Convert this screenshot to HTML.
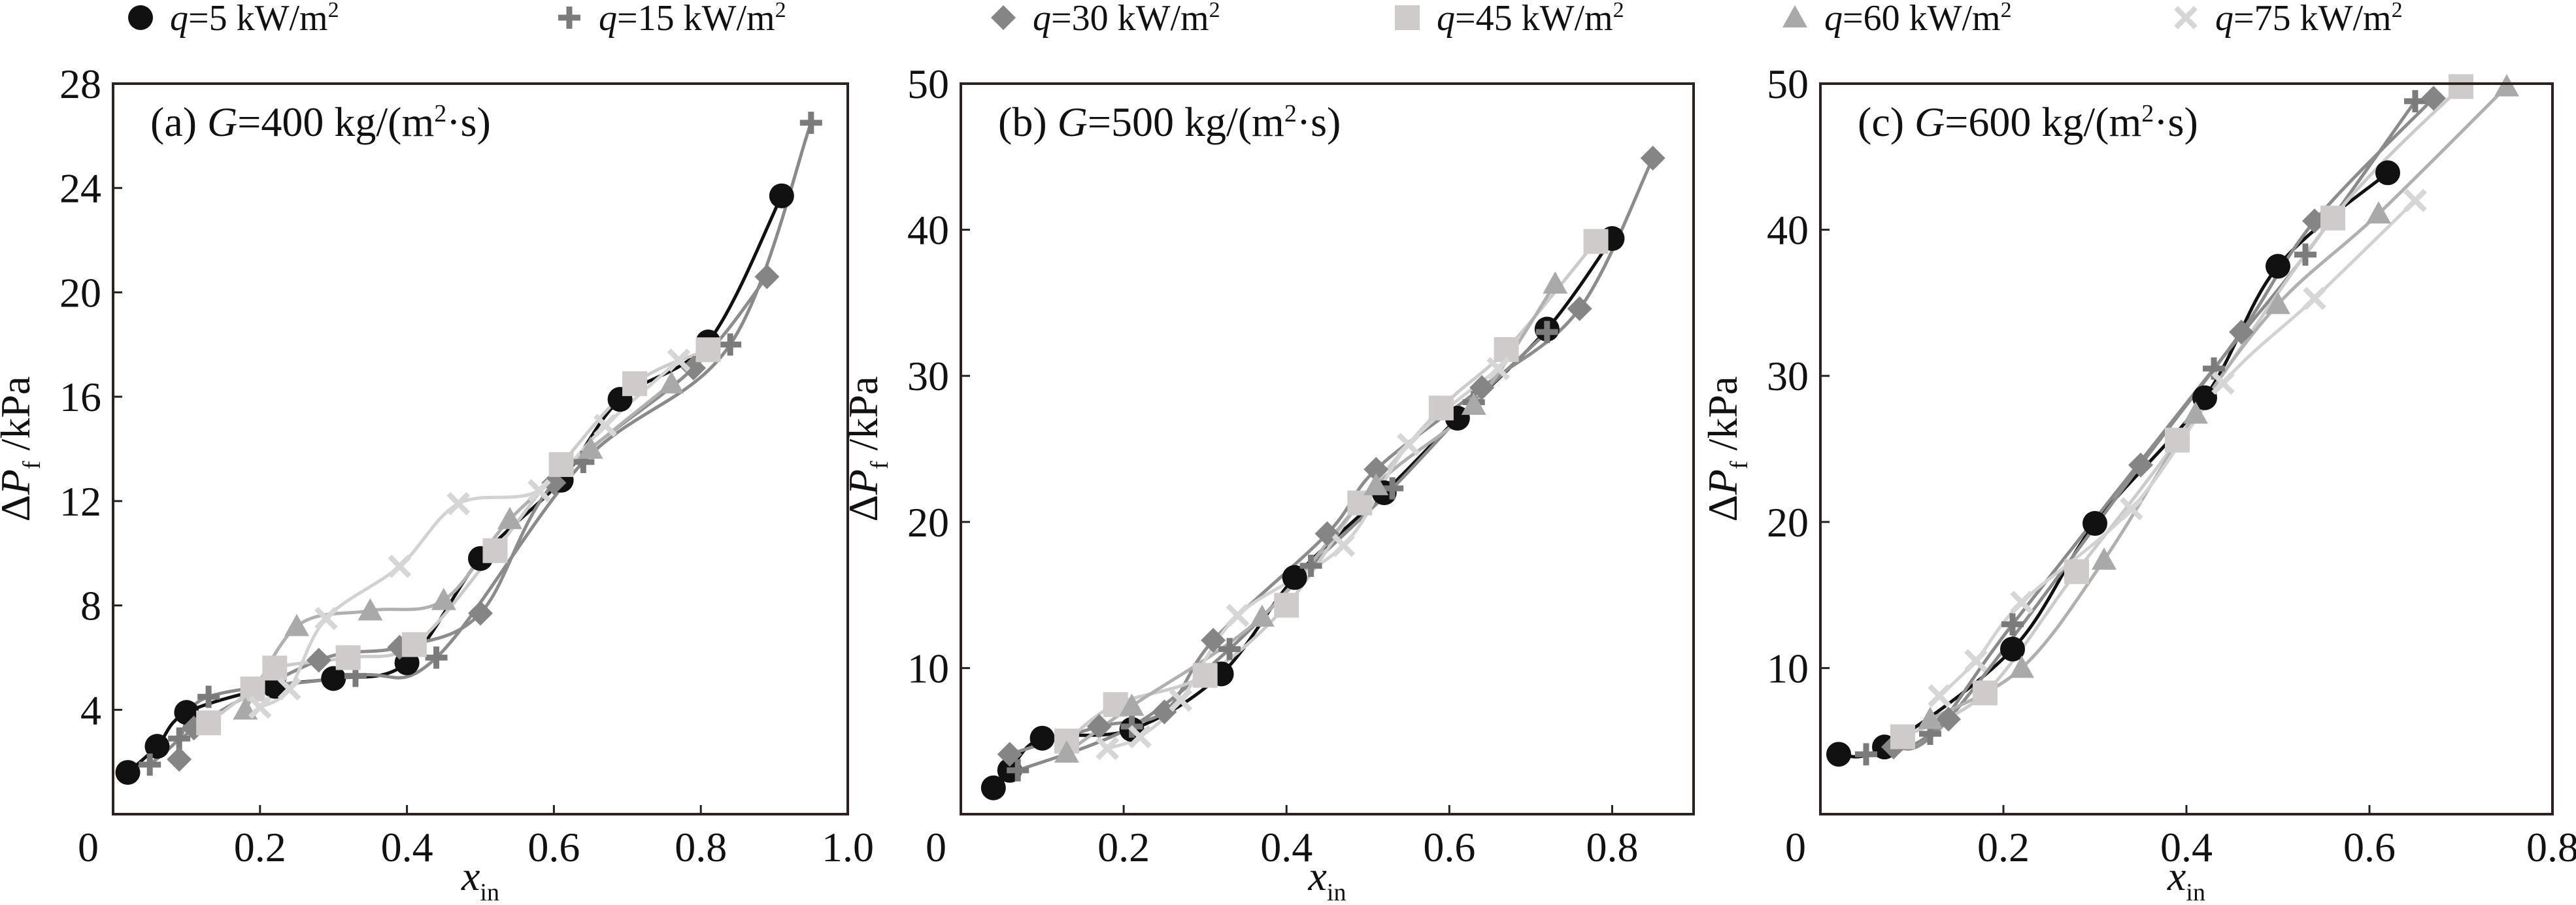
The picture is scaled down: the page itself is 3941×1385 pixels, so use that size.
<!DOCTYPE html>
<html><head><meta charset="utf-8"><style>
html,body{margin:0;padding:0;background:#fff;}
svg{display:block;font-family:"Liberation Serif","DejaVu Serif",serif;}
svg text{font-family:"Liberation Serif","DejaVu Serif",serif;}
</style></head><body>
<svg id="chart" width="3941" height="1385" viewBox="0 0 3941 1385" font-family="Liberation Serif, DejaVu Serif, serif" xmlns="http://www.w3.org/2000/svg"></svg>
<script>
const seriesNames = ["q5","q15","q30","q45","q60","q75"];
const legendLabels = ["5","15","30","45","60","75"];
const panelTitles = ["(a) ","(b) ","(c) "];
const panelG = ["400","500","600"];
const xTicksA = [0,0.2,0.4,0.6,0.8,1.0];
const xTicksB = [0,0.2,0.4,0.6,0.8];
const xTicksC = [0,0.2,0.4,0.6,0.8];
const yTicksA = [4,8,12,16,20,24,28];
const yTicksB = [10,20,30,40,50];
const yTicksC = [10,20,30,40,50];
// Panel a: G=400
const aX_q5 = [0.02,0.06,0.10,0.22,0.30,0.40,0.50,0.61,0.69,0.81,0.91];
const aY_q5 = [1.6,2.6,3.9,4.9,5.2,5.8,9.8,12.8,15.9,18.1,23.7];
const aX_q15 = [0.05,0.09,0.13,0.33,0.44,0.64,0.84,0.95];
const aY_q15 = [1.9,2.9,4.5,5.3,6.0,13.5,18.0,26.5];
const aX_q30 = [0.09,0.11,0.28,0.39,0.50,0.60,0.79,0.89];
const aY_q30 = [2.1,3.3,5.9,6.4,7.7,12.7,17.1,20.6];
const aX_q45 = [0.13,0.19,0.22,0.32,0.41,0.52,0.61,0.71,0.81];
const aY_q45 = [3.5,4.8,5.6,6.0,6.5,10.1,13.4,16.5,17.8];
const aX_q60 = [0.18,0.25,0.35,0.45,0.54,0.65,0.76];
const aY_q60 = [4.0,7.2,7.8,8.2,11.3,14.0,16.5];
const aX_q75 = [0.20,0.24,0.29,0.39,0.47,0.58,0.67,0.77];
const aY_q75 = [4.1,4.8,7.5,9.5,11.9,12.4,14.9,17.4];
// Panel b: G=500
const bX_q5 = [0.04,0.06,0.10,0.21,0.32,0.41,0.52,0.61,0.72,0.80];
const bY_q5 = [1.8,3.0,5.2,5.8,9.6,16.2,22.0,27.1,33.2,39.4];
const bX_q15 = [0.07,0.21,0.33,0.43,0.53,0.63,0.72];
const bY_q15 = [3.0,6.0,11.3,17.0,22.3,28.2,33.0];
const bX_q30 = [0.06,0.17,0.25,0.31,0.45,0.51,0.64,0.76,0.85];
const bY_q30 = [4.1,6.0,7.0,11.9,19.2,23.6,29.2,34.6,44.9];
const bX_q45 = [0.13,0.19,0.30,0.40,0.49,0.59,0.67,0.78];
const bY_q45 = [5.0,7.5,9.5,14.3,21.3,27.8,31.8,39.2];
const bX_q60 = [0.13,0.21,0.37,0.51,0.63,0.73];
const bY_q60 = [4.2,7.4,13.5,22.5,28.0,36.3];
const bX_q75 = [0.18,0.22,0.27,0.34,0.47,0.55,0.66];
const bY_q75 = [4.5,5.3,7.8,13.6,18.4,25.3,30.5];
// Panel c: G=600
const cX_q5 = [0.02,0.07,0.21,0.30,0.42,0.50,0.62];
const cY_q5 = [4.1,4.6,11.3,19.9,28.5,37.5,43.9];
const cX_q15 = [0.05,0.12,0.21,0.43,0.53,0.65];
const cY_q15 = [4.1,5.5,13.0,30.5,38.3,48.8];
const cX_q30 = [0.08,0.14,0.35,0.46,0.54,0.67];
const cY_q30 = [4.6,6.5,23.9,33.0,40.6,49.0];
const cX_q45 = [0.09,0.18,0.28,0.39,0.56,0.70];
const cY_q45 = [5.3,8.3,16.6,25.6,40.8,49.8];
const cX_q60 = [0.12,0.22,0.31,0.41,0.50,0.61,0.75];
const cY_q60 = [6.5,10.0,17.4,27.4,34.9,41.1,49.8];
const cX_q75 = [0.13,0.17,0.22,0.34,0.44,0.54,0.65];
const cY_q75 = [8.1,10.5,14.5,20.9,29.5,35.3,42.0];

const NS="http://www.w3.org/2000/svg";
const svg=document.getElementById('chart');
const colors=["#111111","#7b7b7b","#858585","#cfcbcb","#a9a9a9","#d6d6d6"];
const lineColors=["#111111","#8a8a8a","#8c8c8c","#cdcaca","#b0b0b0","#d2d2d2"];
function el(tag,attrs,parent){const e=document.createElementNS(NS,tag);for(const k in attrs)e.setAttribute(k,attrs[k]);(parent||svg).appendChild(e);return e;}

function marker(kind,cx,cy,col,parent){
  let m;
  if(kind===0){m=el('circle',{cx:cx,cy:cy,r:19,fill:col},parent);}
  else if(kind===1){m=el('path',{d:`M${cx-17},${cy}H${cx+17}M${cx},${cy-17}V${cy+17}`,stroke:col,'stroke-width':9,fill:'none'},parent);}
  else if(kind===2){m=el('path',{d:`M${cx},${cy-19}L${cx+19},${cy}L${cx},${cy+19}L${cx-19},${cy}Z`,fill:col},parent);}
  else if(kind===3){m=el('rect',{x:cx-19,y:cy-19,width:38,height:38,fill:col},parent);}
  else if(kind===4){m=el('path',{d:`M${cx},${cy-19}L${cx+19},${cy+15}L${cx-19},${cy+15}Z`,fill:col},parent);}
  else {m=el('path',{d:`M${cx-15},${cy-15}L${cx+15},${cy+15}M${cx+15},${cy-15}L${cx-15},${cy+15}`,stroke:col,'stroke-width':8,fill:'none'},parent);}
  return m;
}
function smoothPath(pts){
  if(pts.length<2)return '';
  let d=`M${pts[0][0]},${pts[0][1]}`;
  for(let i=0;i<pts.length-1;i++){
    const p0=pts[i-1]||pts[i],p1=pts[i],p2=pts[i+1],p3=pts[i+2]||p2;
    const c1=[p1[0]+(p2[0]-p0[0])/6,p1[1]+(p2[1]-p0[1])/6];
    const c2=[p2[0]-(p3[0]-p1[0])/6,p2[1]-(p3[1]-p1[1])/6];
    d+=` C${c1[0]},${c1[1]} ${c2[0]},${c2[1]} ${p2[0]},${p2[1]}`;
  }
  return d;
}

// legend
const legX=[215,871,1535,2153,2746,3344];
const legend=el('g',{});


seriesNames.forEach((s,i)=>{
  const g=el('g',{},legend);
  
  
  marker(i,legX[i],27,colors[i],g);
  const t=el('text',{x:legX[i]+45,y:46,'font-size':56,fill:'#111'},g);
  t.innerHTML=`<tspan font-style="italic">q</tspan>=${legendLabels[i]} kW/m<tspan font-size="34" dy="-20">2</tspan>`;
});

const panels=[
 {left:173,right:1297,xmax:1.0,ymax:28,xt:xTicksA,yt:yTicksA,X:[aX_q5,aX_q15,aX_q30,aX_q45,aX_q60,aX_q75],Y:[aY_q5,aY_q15,aY_q30,aY_q45,aY_q60,aY_q75],fmt:v=>v===0?'0':v.toFixed(1)},
 {left:1470,right:2591,xmax:0.9,ymax:50,xt:xTicksB,yt:yTicksB,X:[bX_q5,bX_q15,bX_q30,bX_q45,bX_q60,bX_q75],Y:[bY_q5,bY_q15,bY_q30,bY_q45,bY_q60,bY_q75],fmt:v=>v===0?'0':v.toFixed(1)},
 {left:2785,right:3905,xmax:0.8,ymax:50,xt:xTicksC,yt:yTicksC,X:[cX_q5,cX_q15,cX_q30,cX_q45,cX_q60,cX_q75],Y:[cY_q5,cY_q15,cY_q30,cY_q45,cY_q60,cY_q75],fmt:v=>v===0?'0':v.toFixed(1)}
];
const plotTop=128,plotBottom=1246;
panels.forEach((p,pi)=>{
  const letter="abc"[pi];
  const g=el('g',{});
  
  
  const sx=v=>p.left+(p.right-p.left)*v/p.xmax;
  const sy=v=>plotBottom-(plotBottom-plotTop)*v/p.ymax;
  p.xt.forEach(v=>{
    if(v>0&&v<p.xmax-1e-9) el('line',{x1:sx(v),x2:sx(v),y1:plotBottom,y2:plotBottom-14,stroke:'#222','stroke-width':3},g);
    const t=el('text',{x:v===0?sx(v)-38:sx(v),y:plotBottom+72,'font-size':64,'text-anchor':'middle',fill:'#111'},g);
    t.textContent=p.fmt(v);
    
    
  });
  p.yt.forEach(v=>{
    if(v<p.ymax) el('line',{x1:p.left,x2:p.left+14,y1:sy(v),y2:sy(v),stroke:'#222','stroke-width':3},g);
    const t=el('text',{x:p.left-18,y:sy(v)+22,'font-size':64,'text-anchor':'end',fill:'#111'},g);
    t.textContent=String(v);
    
    
  });
  p.X.forEach((xs,si)=>{
    const sg=el('g',{},g);
    
    
    const pts=xs.map((x,k)=>[sx(x),sy(p.Y[si][k])]);
    el('path',{d:smoothPath(pts),fill:'none',stroke:lineColors[si],'stroke-width':5},sg);
  });
  p.X.forEach((xs,si)=>{
    xs.forEach((x,k)=>{
      const m=marker(si,sx(x),sy(p.Y[si][k]),colors[si],g);
      
      
    });
  });
  const fr=el('rect',{x:p.left,y:plotTop,width:p.right-p.left,height:plotBottom-plotTop,fill:'none',stroke:'#2a2320','stroke-width':4},g);
  
  
  const tt=el('text',{x:p.left+57,y:208,'font-size':64,fill:'#111'},g);
  tt.innerHTML=`${panelTitles[pi]}<tspan font-style="italic">G</tspan>=${panelG[pi]} kg/(m<tspan font-size="38" dy="-22">2</tspan><tspan dy="22">·s)</tspan>`;
  
  
  const xl=el('text',{x:(p.left+p.right)/2,y:1362,'font-size':64,'text-anchor':'middle',fill:'#111'},g);
  xl.innerHTML=`<tspan font-style="italic">x</tspan><tspan font-size="38" dy="16">in</tspan>`;
  
  
  const yx=p.left-128, yy=(plotTop+plotBottom)/2;
  const yl=el('text',{x:0,y:0,'font-size':64,'text-anchor':'middle',fill:'#111',transform:`translate(${yx},${yy}) rotate(-90)`},g);
  yl.innerHTML=`Δ<tspan font-style="italic">P</tspan><tspan font-size="38" dy="16">f</tspan><tspan dy="-16"> /kPa</tspan>`;
  
  
});
</script>
</body></html>
